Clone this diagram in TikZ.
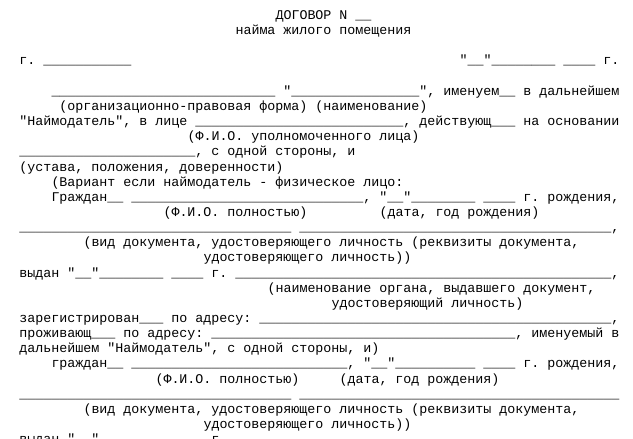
\documentclass[tikz,border=0pt]{standalone}
\usepackage{fontspec}
\setmonofont{Liberation Mono}
\newcommand{\qq}{\textquotedbl}
\ExplSyntaxOn
\cs_new:Npn \usc #1 {\prg_replicate:nn{#1}{\_}}
\ExplSyntaxOff
\tikzset{ln/.style={font=\ttfamily\fontsize{13.333}{15}\selectfont, anchor=base west, inner sep=0pt, outer sep=0pt, text=black}}
\begin{document}
\begin{tikzpicture}[x=1pt,y=1pt]
\clip (0,-439) rectangle (633,0);
\fill[white] (0,-439) rectangle (633,0);
\node[ln] (l1) at (275.5,-19.5) {ДОГОВОР N \usc{2}};
\node[ln] (l2) at (235.5,-34.65) {найма жилого помещения};
\node[ln] (l4a) at (19.5,-64.95) {г. \usc{11}};
\node[ln] (l4b) at (459.5,-64.95) {\qq\usc{2}\qq\usc{8} \usc{4} г.};
\node[ln] (l6) at (51.5,-95.25) {\usc{28} \qq\usc{16}\qq, именуем\usc{2} в дальнейшем};
\node[ln] (l7) at (59.5,-110.4) {(организационно-правовая форма) (наименование)};
\node[ln] (l8) at (19.5,-125.55) {\qq Наймодатель\qq, в лице \usc{26}, действующ\usc{3} на основании};
\node[ln] (l9) at (187.5,-140.7) {(Ф.И.О. уполномоченного лица)};
\node[ln] (l10) at (19.5,-155.85) {\usc{22}, с одной стороны, и};
\node[ln] (l11) at (19.5,-171) {(устава, положения, доверенности)};
\node[ln] (l12) at (51.5,-186.15) {(Вариант если наймодатель - физическое лицо:};
\node[ln] (l13) at (51.5,-201.3) {Граждан\usc{2} \usc{29}, \qq\usc{2}\qq\usc{8} \usc{4} г. рождения,};
\node[ln] (l14a) at (163.5,-216.45) {(Ф.И.О. полностью)};
\node[ln] (l14b) at (379.5,-216.45) {(дата, год рождения)};
\node[ln] (l15) at (19.5,-231.6) {\usc{34} \usc{39},};
\node[ln] (l16) at (83.5,-246.75) {(вид документа, удостоверяющего личность (реквизиты документа,};
\node[ln] (l17) at (203.5,-261.9) {удостоверяющего личность))};
\node[ln] (l18) at (19.5,-277.05) {выдан \qq\usc{2}\qq\usc{8} \usc{4} г. \usc{47},};
\node[ln] (l19) at (267.5,-292.2) {(наименование органа, выдавшего документ,};
\node[ln] (l20) at (331.5,-307.35) {удостоверяющий личность)};
\node[ln] (l21) at (19.5,-322.5) {зарегистрирован\usc{3} по адресу: \usc{44},};
\node[ln] (l22) at (19.5,-337.65) {проживающ\usc{3} по адресу: \usc{38}, именуемый в};
\node[ln] (l23) at (19.5,-352.8) {дальнейшем \qq Наймодатель\qq, с одной стороны, и)};
\node[ln] (l24) at (51.5,-367.95) {граждан\usc{2} \usc{27}, \qq\usc{2}\qq\usc{10} \usc{4} г. рождения,};
\node[ln] (l25a) at (155.5,-383.1) {(Ф.И.О. полностью)};
\node[ln] (l25b) at (339.5,-383.1) {(дата, год рождения)};
\node[ln] (l26) at (19.5,-398.25) {\usc{34} \usc{40}};
\node[ln] (l27) at (83.5,-413.4) {(вид документа, удостоверяющего личность (реквизиты документа,};
\node[ln] (l28) at (203.5,-428.55) {удостоверяющего личность))};
\node[ln] (l29) at (19.5,-443.7) {выдан \qq\usc{2}\qq\usc{8} \usc{4} г. \usc{47},};
\end{tikzpicture}
\end{document}
